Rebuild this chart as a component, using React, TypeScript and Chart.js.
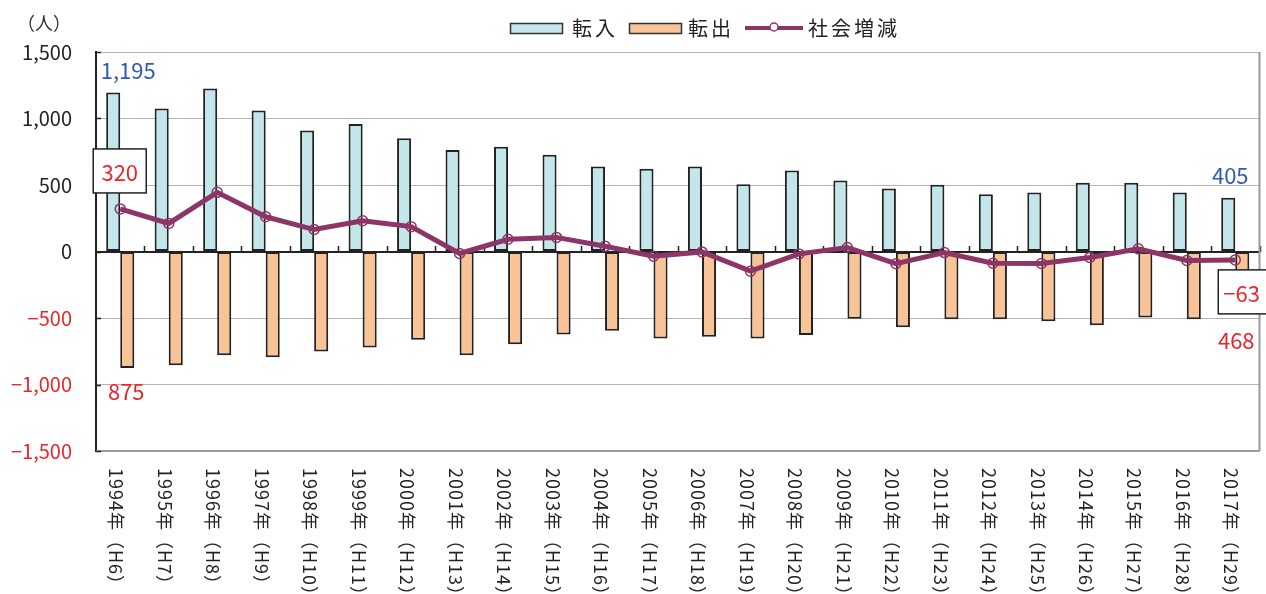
import React, { useEffect, useRef } from "react";
import { Chart, registerables } from "chart.js";

Chart.register(...registerables);

// ---- data ----
const categories = [
  "1994年（H6）", "1995年（H7）", "1996年（H8）", "1997年（H9）", "1998年（H10）",
  "1999年（H11）", "2000年（H12）", "2001年（H13）", "2002年（H14）", "2003年（H15）",
  "2004年（H16）", "2005年（H17）", "2006年（H18）", "2007年（H19）", "2008年（H20）",
  "2009年（H21）", "2010年（H22）", "2011年（H23）", "2012年（H24）", "2013年（H25）",
  "2014年（H26）", "2015年（H27）", "2016年（H28）", "2017年（H29）",
];
const inflow = [1195, 1075, 1225, 1060, 910, 958, 851, 764, 788, 728, 639, 622, 639, 506, 609, 533, 473, 502, 431, 443, 517, 517, 443, 405];
const outflow = [-875, -855, -780, -795, -752, -722, -663, -780, -698, -624, -595, -654, -641, -654, -627, -506, -570, -509, -509, -524, -554, -497, -509, -468];
const netChange = [320, 211, 445, 261, 165, 231, 187, -15, 92, 106, 40, -36, -3, -148, -18, 30, -92, -8, -88, -90, -45, 20, -68, -63];
const seriesNames = ["転入", "転出", "社会増減"];
const yMin = -1500;
const yMax = 1500;
const yStep = 500;
const unitLabel = "（人）";

// ---- styles ----
const FONT = '"Noto Sans CJK JP", "Noto Sans", sans-serif';
const BLUE = "#2c5caa";
const RED = "#e8262b";
const INK = "#222222";
const CYAN = "#c3e6eb";
const PEACH = "#f8c396";
const PURPLE = "#8e3567";
const GRID = "#b4b4b4";

const fmt = (v: number) => {
  const s = Math.abs(v).toLocaleString("en-US");
  return v < 0 ? "\u2212" + s : s;
};

const drawPlugin = {
  id: "customDraw",
  beforeDatasetDraw(chart: any, args: any) {
    if (args.index !== 2) return;
    const { ctx, chartArea } = chart;
    const xs = chart.scales.x;
    const ys = chart.scales.y;
    const y0 = Math.round(ys.getPixelForValue(0));
    ctx.save();
    ctx.strokeStyle = INK;
    ctx.lineWidth = 2;
    ctx.beginPath();
    ctx.moveTo(chartArea.left, y0);
    ctx.lineTo(chartArea.right, y0);
    ctx.stroke();
    // tick marks at category boundaries
    ctx.lineWidth = 1.5;
    const n = categories.length;
    for (let i = 1; i <= n; i++) {
      const xb = Math.round((xs.getPixelForValue(i - 1) + (i < n ? xs.getPixelForValue(i) : xs.getPixelForValue(i - 1) + (xs.getPixelForValue(1) - xs.getPixelForValue(0)))) / 2) + 0.5;
      ctx.beginPath();
      ctx.moveTo(xb, y0);
      ctx.lineTo(xb, y0 - 6);
      ctx.stroke();
    }
    ctx.restore();
  },
  afterDraw(chart: any) {
    const { ctx, chartArea } = chart;
    const xs = chart.scales.x;
    const ys = chart.scales.y;
    ctx.save();

    // right and bottom border
    ctx.strokeStyle = "#9a9a9a";
    ctx.lineWidth = 2;
    ctx.beginPath();
    ctx.moveTo(chartArea.right, chartArea.top);
    ctx.lineTo(chartArea.right, chartArea.bottom);
    ctx.moveTo(chartArea.left, chartArea.bottom);
    ctx.lineTo(chartArea.right, chartArea.bottom);
    ctx.stroke();

    // inner ticks on left axis
    ctx.strokeStyle = INK;
    ctx.lineWidth = 1.5;
    for (let v = yMin; v <= yMax; v += yStep) {
      const y = Math.round(ys.getPixelForValue(v)) + 0.5;
      ctx.beginPath();
      ctx.moveTo(chartArea.left, y);
      ctx.lineTo(chartArea.left + 5, y);
      ctx.stroke();
    }

    // unit label
    ctx.fillStyle = "#333";
    ctx.font = `18px ${FONT}`;
    ctx.textAlign = "center";
    ctx.textBaseline = "middle";
    ctx.fillText(unitLabel, 44, 23);

    // x labels rotated
    ctx.font = `18px ${FONT}`;
    ctx.fillStyle = INK;
    (ctx as any).letterSpacing = "1px";
    categories.forEach((c, i) => {
      const x = xs.getPixelForValue(i) - 4;
      ctx.save();
      ctx.translate(x, 468);
      ctx.rotate(Math.PI / 2);
      ctx.textAlign = "left";
      ctx.textBaseline = "middle";
      ctx.fillText(c, 0, 0);
      ctx.restore();
    });
    (ctx as any).letterSpacing = "0px";

    // legend
    const ly = 28;
    ctx.lineWidth = 1.5;
    ctx.strokeStyle = "#333";
    ctx.fillStyle = CYAN;
    ctx.fillRect(510.5, 23.5, 52, 10);
    ctx.strokeRect(510.5, 23.5, 52, 10);
    ctx.fillStyle = PEACH;
    ctx.fillRect(629.5, 23.5, 52, 10);
    ctx.strokeRect(629.5, 23.5, 52, 10);
    ctx.strokeStyle = PURPLE;
    ctx.lineWidth = 4;
    ctx.beginPath();
    ctx.moveTo(745, ly);
    ctx.lineTo(803, ly);
    ctx.stroke();
    ctx.fillStyle = "#fff";
    ctx.lineWidth = 1.5;
    ctx.beginPath();
    ctx.arc(774, ly - 1, 4, 0, Math.PI * 2);
    ctx.fill();
    ctx.stroke();
    ctx.fillStyle = INK;
    ctx.font = `20px ${FONT}`;
    ctx.textAlign = "left";
    ctx.textBaseline = "middle";
    (ctx as any).letterSpacing = "3px";
    ctx.fillText(seriesNames[0], 572, ly);
    ctx.fillText(seriesNames[1], 688, ly);
    ctx.fillText(seriesNames[2], 808, ly);
    (ctx as any).letterSpacing = "0px";

    // annotations
    const last = categories.length - 1;
    const cx0 = xs.getPixelForValue(0);
    const cxL = xs.getPixelForValue(last);
    ctx.font = `22px ${FONT}`;
    ctx.textAlign = "center";
    ctx.textBaseline = "middle";

    ctx.fillStyle = BLUE;
    ctx.fillText(fmt(inflow[0]), cx0 + 8, ys.getPixelForValue(inflow[0]) - 22);
    ctx.fillText(fmt(inflow[last]), cxL - 5, ys.getPixelForValue(inflow[last]) - 22);

    ctx.fillStyle = RED;
    ctx.fillText(String(Math.abs(outflow[0])), cx0 + 6, ys.getPixelForValue(outflow[0]) + 24);
    ctx.fillText(String(Math.abs(outflow[last])), cxL + 1, ys.getPixelForValue(outflow[last]) + 27);

    // boxed net labels
    const p0y = ys.getPixelForValue(netChange[0]);
    ctx.fillStyle = "#fff";
    ctx.strokeStyle = "#222";
    ctx.lineWidth = 1.5;
    ctx.fillRect(cx0 - 27, p0y - 60, 53, 44);
    ctx.strokeRect(cx0 - 27, p0y - 60, 53, 44);
    ctx.fillStyle = RED;
    ctx.fillText(fmt(netChange[0]), cx0 - 0.5, p0y - 36);

    const pLy = ys.getPixelForValue(netChange[last]);
    ctx.fillStyle = "#fff";
    ctx.fillRect(cxL - 17, pLy + 10, 70, 44);
    ctx.strokeRect(cxL - 17, pLy + 10, 70, 44);
    ctx.fillStyle = RED;
    ctx.textAlign = "left";
    ctx.fillText(fmt(netChange[last]), cxL - 12, pLy + 34);

    ctx.restore();
  },
};

export default function App() {
  const ref = useRef<HTMLCanvasElement | null>(null);

  useEffect(() => {
    if (!ref.current) return;
    const chart = new Chart(ref.current, {
      type: "bar",
      data: {
        labels: categories,
        datasets: [
          {
            type: "bar",
            label: seriesNames[0],
            data: inflow,
            backgroundColor: CYAN,
            borderColor: INK,
            borderWidth: 2,
            borderSkipped: false,
            categoryPercentage: 0.58,
            barPercentage: 1.0,
            order: 1,
          },
          {
            type: "bar",
            label: seriesNames[1],
            data: outflow,
            backgroundColor: PEACH,
            borderColor: INK,
            borderWidth: 2,
            borderSkipped: false,
            categoryPercentage: 0.58,
            barPercentage: 1.0,
            order: 1,
          },
          {
            type: "line",
            label: seriesNames[2],
            data: netChange,
            borderColor: PURPLE,
            borderWidth: 5,
            pointRadius: 5,
            pointBorderWidth: 1.5,
            pointBorderColor: PURPLE,
            pointBackgroundColor: "rgba(0,0,0,0)",
            tension: 0,
            order: 0,
          } as any,
        ],
      },
      options: {
        responsive: false,
        animation: false,
        devicePixelRatio: 1,
        layout: { padding: { top: 52, bottom: 143, left: 0, right: 3 } },
        plugins: {
          legend: { display: false },
          tooltip: { enabled: false },
        },
        scales: {
          x: {
            display: false,
            offset: true,
          },
          y: {
            min: yMin,
            max: yMax,
            afterFit: (scale: any) => {
              scale.width = 96;
            },
            ticks: {
              stepSize: yStep,
              padding: 24,
              font: { family: FONT, size: 20 },
              color: (c: any) => (c.tick && c.tick.value < 0 ? RED : INK),
              callback: (v: any) => fmt(Number(v)),
            },
            grid: {
              drawTicks: false,
              color: (c: any) => (c.tick && c.tick.value === 0 ? "rgba(0,0,0,0)" : GRID),
              lineWidth: 1,
            },
            border: { color: INK, width: 2 },
          },
        },
      },
      plugins: [drawPlugin],
    });
    return () => chart.destroy();
  }, []);

  return (
    <div style={{ position: "absolute", left: 0, top: 0, width: 1266, height: 594, background: "#fff" }}>
      <canvas ref={ref} width={1266} height={594} />
    </div>
  );
}
